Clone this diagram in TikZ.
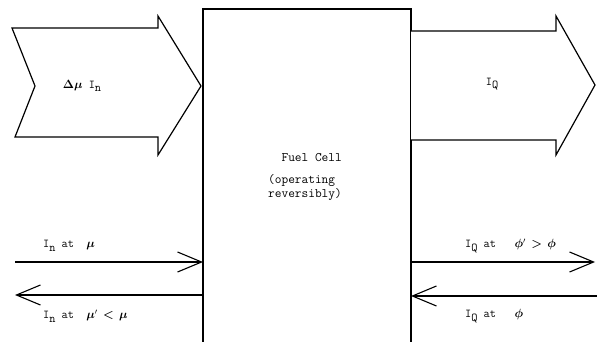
\documentclass[tikz,border=0pt]{standalone}
\usepackage{amsmath,bm}
\usetikzlibrary{arrows.meta, positioning}
\newcommand{\lowr}[1]{\raisebox{-0.7ex}{#1}}
\tikzset{
  wall/.style      = {line width=1.2pt, line join=miter},
  bigarrow/.style  = {draw, line width=1.2pt, fill=white, line join=miter},
  flowline/.style  = {line width=1.1pt, -{Straight Barb[length=24pt,width=20pt,line width=1.1pt]}},
  lbl/.style       = {font=\ttfamily\fontsize{12}{14}\selectfont, inner sep=0pt},
}

\begin{document}
\begin{tikzpicture}[x=1pt,y=-1pt]
  \useasboundingbox (0,0) rectangle (597,342);
  % fuel cell
  \draw[wall] (203,342) -- (203,9) -- (411,9) -- (411,342);
  \node[lbl, align=left, font=\ttfamily\fontsize{13}{14}\selectfont] (cell) at (305,177)
    {\ \ Fuel Cell\\[8pt](operating\\ reversibly)};
  % chemical flow in
  \draw[bigarrow] (12,28) -- (158,28) -- (158,16) -- (201,86) -- (158,155)
    -- (158,137) -- (15,137) -- (35,86) -- cycle;
  \node[lbl] (chem) at (82,86) {$\bm{\Delta\mu}$ I\lowr{n}};
  % heat flow out
  \draw[bigarrow] (411,31) -- (556,31) -- (556,16) -- (595,85) -- (556,155)
    -- (556,140) -- (411,140);
  \node[lbl] (heat) at (492,84) {I\lowr{Q}};
  % particle streams
  \coordinate (nIn)  at (15,262);  \coordinate (nInB)  at (203,262);
  \coordinate (nOut) at (15,295);  \coordinate (nOutB) at (203,295);
  \draw[flowline] (nIn) -- (nInB);
  \draw[flowline] (nOutB) -- (nOut);
  \node[lbl, anchor=west] (nInL)  at (43,246) {I\lowr{n}\ at \ $\bm{\mu}$};
  \node[lbl, anchor=west] (nOutL) at (43,316) {I\lowr{n}\ at \ $\bm{\mu}'\,\bm{<}\,\bm{\mu}$};
  % heat streams
  \coordinate (qOutB) at (411,262); \coordinate (qOut) at (595,262);
  \coordinate (qInB)  at (411,296); \coordinate (qIn)  at (597,296);
  \draw[flowline] (qOutB) -- (qOut);
  \draw[flowline] (qIn) -- (qInB);
  \node[lbl, anchor=west] (qOutL) at (465,246) {I\lowr{Q}\ at \ \ $\bm{\phi}'\,\bm{>}\,\bm{\phi}$};
  \node[lbl, anchor=west] (qInL)  at (465,316) {I\lowr{Q}\ at \ \ $\bm{\phi}$};
\end{tikzpicture}
\end{document}
